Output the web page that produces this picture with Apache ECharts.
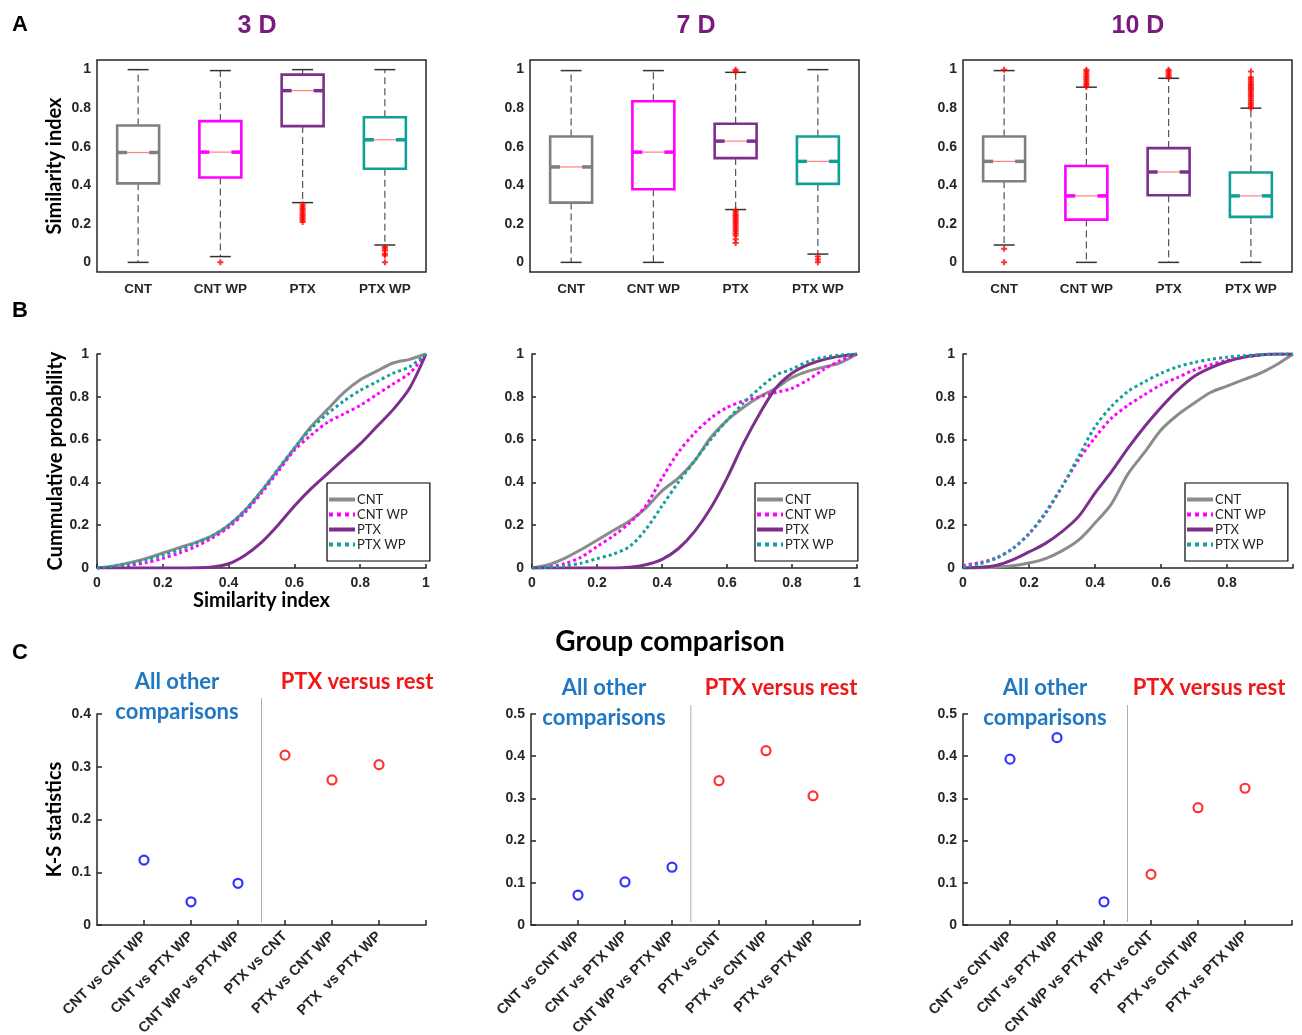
<!DOCTYPE html>
<html><head><meta charset="utf-8">
<script src="https://cdn.jsdelivr.net/npm/echarts@6/dist/echarts.min.js"></script>
<style>html,body{margin:0;padding:0;background:#fff}#main{width:1302px;height:1035px}</style>
</head><body><div id="main"></div>
<script>
// ---------------- DATA ----------------
const groups = ['CNT', 'CNT WP', 'PTX', 'PTX WP'];
const dayTitles = ['3 D', '7 D', '10 D'];
const yTicksA = [0, 0.2, 0.4, 0.6, 0.8, 1];

// box stats per group: [lower whisker, Q1, median, Q3, upper whisker]
const box3D  = [[0, 0.41, 0.57, 0.71, 1.0], [0.03, 0.44, 0.572, 0.733, 0.995], [0.31, 0.707, 0.891, 0.974, 1.0], [0.09, 0.486, 0.636, 0.753, 1.0]];
const box7D  = [[0, 0.31, 0.495, 0.653, 0.995], [0, 0.379, 0.572, 0.836, 0.995], [0.274, 0.541, 0.629, 0.719, 0.986], [0.043, 0.407, 0.524, 0.653, 1.0]];
const box10D = [[0.09, 0.421, 0.524, 0.653, 0.995], [0, 0.222, 0.345, 0.5, 0.909], [0, 0.348, 0.469, 0.593, 0.955], [0, 0.236, 0.345, 0.466, 0.80]];

// outliers: [group index, value]
const out3D = [[1, 0], [2, 0.21], [2, 0.22], [2, 0.23], [2, 0.24], [2, 0.25], [2, 0.26], [2, 0.27], [2, 0.28], [2, 0.29], [2, 0.30],
  [3, 0], [3, 0.035], [3, 0.045], [3, 0.06], [3, 0.07], [3, 0.08]];
const out7D = [[2, 0.99], [2, 1.0], [2, 0.10], [2, 0.12], [2, 0.14], [2, 0.15], [2, 0.16], [2, 0.17], [2, 0.18], [2, 0.19], [2, 0.20],
  [2, 0.21], [2, 0.22], [2, 0.23], [2, 0.24], [2, 0.25], [2, 0.26], [2, 0.27], [3, 0], [3, 0.015], [3, 0.03]];
const out10D = [[0, 1.0], [0, 0.07], [0, 0],
  [1, 0.91], [1, 0.92], [1, 0.93], [1, 0.94], [1, 0.95], [1, 0.96], [1, 0.97], [1, 0.98], [1, 0.99], [1, 1.0],
  [2, 0.96], [2, 0.97], [2, 0.98], [2, 0.99], [2, 1.0],
  [3, 0.80], [3, 0.81], [3, 0.82], [3, 0.83], [3, 0.84], [3, 0.85], [3, 0.86], [3, 0.87], [3, 0.88], [3, 0.89], [3, 0.90],
  [3, 0.91], [3, 0.92], [3, 0.93], [3, 0.94], [3, 0.95], [3, 0.96], [3, 0.99]];

// cumulative distributions sampled at cdfX
const cdfX = [0, 0.05, 0.1, 0.15, 0.2, 0.25, 0.3, 0.35, 0.4, 0.45, 0.5, 0.55, 0.6, 0.65, 0.7, 0.75, 0.8, 0.85, 0.9, 0.95, 1];
const cdf3D_CNT   = [0, 0.01, 0.025, 0.045, 0.07, 0.095, 0.12, 0.15, 0.2, 0.27, 0.36, 0.46, 0.56, 0.66, 0.74, 0.82, 0.88, 0.92, 0.958, 0.975, 1];
const cdf3D_CNTWP = [0, 0.005, 0.012, 0.025, 0.045, 0.07, 0.1, 0.14, 0.19, 0.26, 0.35, 0.45, 0.55, 0.62, 0.68, 0.72, 0.76, 0.81, 0.86, 0.91, 1];
const cdf3D_PTX   = [0, 0, 0, 0, 0, 0, 0.001, 0.005, 0.02, 0.06, 0.12, 0.2, 0.29, 0.37, 0.44, 0.51, 0.58, 0.66, 0.74, 0.84, 1];
const cdf3D_PTXWP = [0, 0.008, 0.02, 0.038, 0.06, 0.085, 0.115, 0.15, 0.2, 0.27, 0.36, 0.46, 0.56, 0.65, 0.72, 0.78, 0.83, 0.87, 0.91, 0.94, 1];

const cdf7D_CNT   = [0, 0.015, 0.045, 0.085, 0.13, 0.175, 0.22, 0.28, 0.36, 0.42, 0.5, 0.61, 0.69, 0.75, 0.8, 0.84, 0.89, 0.92, 0.94, 0.96, 1];
const cdf7D_CNTWP = [0, 0.005, 0.02, 0.05, 0.1, 0.15, 0.21, 0.29, 0.42, 0.54, 0.63, 0.7, 0.75, 0.78, 0.8, 0.82, 0.84, 0.88, 0.93, 0.97, 1];
const cdf7D_PTX   = [0, 0, 0, 0, 0, 0, 0.003, 0.015, 0.04, 0.09, 0.17, 0.28, 0.42, 0.58, 0.72, 0.84, 0.91, 0.95, 0.975, 0.99, 1];
const cdf7D_PTXWP = [0, 0.003, 0.01, 0.022, 0.044, 0.065, 0.1, 0.18, 0.29, 0.4, 0.5, 0.6, 0.69, 0.77, 0.84, 0.9, 0.93, 0.965, 0.985, 0.995, 1];

const cdf10D_CNT   = [0, 0, 0.003, 0.01, 0.023, 0.044, 0.08, 0.13, 0.21, 0.3, 0.44, 0.54, 0.645, 0.715, 0.77, 0.82, 0.85, 0.88, 0.91, 0.95, 1];
const cdf10D_CNTWP = [0.012, 0.025, 0.047, 0.09, 0.16, 0.255, 0.38, 0.505, 0.61, 0.7, 0.76, 0.81, 0.856, 0.89, 0.925, 0.95, 0.97, 0.985, 0.995, 1, 1];
const cdf10D_PTX   = [0, 0.003, 0.012, 0.038, 0.075, 0.115, 0.17, 0.24, 0.35, 0.45, 0.56, 0.66, 0.75, 0.83, 0.895, 0.935, 0.965, 0.985, 0.995, 1, 1];
const cdf10D_PTXWP = [0.005, 0.02, 0.045, 0.09, 0.16, 0.26, 0.38, 0.52, 0.66, 0.755, 0.825, 0.87, 0.91, 0.94, 0.96, 0.975, 0.985, 0.992, 0.997, 1, 1];

// K-S statistics
const ksCats3D = ['CNT vs CNT WP', 'CNT vs PTX WP', 'CNT WP vs PTX WP', 'PTX vs CNT', 'PTX vs CNT WP', 'PTX  vs PTX WP'];
const ksCats   = ['CNT vs CNT WP', 'CNT vs PTX WP', 'CNT WP vs PTX WP', 'PTX vs CNT', 'PTX vs CNT WP', 'PTX vs PTX WP'];
const ks3D  = [0.123, 0.044, 0.079, 0.322, 0.275, 0.304];
const ks7D  = [0.071, 0.102, 0.137, 0.342, 0.413, 0.306];
const ks10D = [0.393, 0.444, 0.055, 0.120, 0.278, 0.324];
const ksTicks3 = [0, 0.1, 0.2, 0.3, 0.4];
const ksTicks5 = [0, 0.1, 0.2, 0.3, 0.4, 0.5];

// ---------------- STYLE / LAYOUT ----------------
const groupColors = ['#7f7f7f', '#ff00ff', '#7e2f8e', '#10a098'];
const cdfColors = ['#8c8c8c', '#ff00ff', '#7e2f8e', '#14a09a'];
const cdfTypes = ['solid', 'dotted', 'solid', 'dotted'];
const axisCol = '#262626';
const tickFont = { fontFamily: "'Liberation Sans',Arial,sans-serif", fontWeight: 'bold', fontSize: 14, color: axisCol };
const titleFont = "Lato,'Open Sans',sans-serif";
const colLeft = [97, 530, 963];
const plusPath = 'path://M2,0H4V2H6V4H4V6H2V4H0V2H2Z';

const grids = [], xAxes = [], yAxes = [], series = [], legends = [];

function boxRender(params, api) {
  const g = api.value(0);
  const lo = api.value(1), q1 = api.value(2), md = api.value(3), q3 = api.value(4), hi = api.value(5);
  const bw = api.size([1, 0])[0];
  const half = bw * 0.255;
  const cx = api.coord([g, md])[0];
  const Y = v => api.coord([g, v])[1];
  const L = cx - half, R = cx + half;
  const ind = 10, capH = half * 0.5;
  const col = groupColors[g];
  const yq1 = Y(q1), yq3 = Y(q3), ym = Y(md), ylo = Y(lo), yhi = Y(hi);
  const dash = { stroke: '#555', lineWidth: 1.2, lineDash: [7, 4] };
  const cap = { stroke: '#333', lineWidth: 1.5 };
  const notch = { stroke: col, lineWidth: 3.5 };
  return { type: 'group', children: [
    { type: 'line', shape: { x1: cx, y1: yq3, x2: cx, y2: yhi }, style: dash },
    { type: 'line', shape: { x1: cx, y1: yq1, x2: cx, y2: ylo }, style: dash },
    { type: 'line', shape: { x1: cx - capH, y1: yhi, x2: cx + capH, y2: yhi }, style: cap },
    { type: 'line', shape: { x1: cx - capH, y1: ylo, x2: cx + capH, y2: ylo }, style: cap },
    { type: 'rect', shape: { x: L, y: yq3, width: R - L, height: yq1 - yq3 }, style: { fill: 'none', stroke: col, lineWidth: 2.6 } },
    { type: 'line', shape: { x1: L + ind, y1: ym, x2: R - ind, y2: ym }, style: { stroke: '#ff8080', lineWidth: 1.2 } },
    { type: 'line', shape: { x1: L, y1: ym, x2: L + ind, y2: ym }, style: notch },
    { type: 'line', shape: { x1: R - ind, y1: ym, x2: R, y2: ym }, style: notch }
  ] };
}

// ---- Row A: box plots ----
const boxSets = [box3D, box7D, box10D];
const outSets = [out3D, out7D, out10D];
for (let d = 0; d < 3; d++) {
  const gi = grids.push({ left: colLeft[d], top: 60, width: 329, height: 212, outerBoundsMode: 'none', show: true, borderColor: axisCol, borderWidth: 1.5, backgroundColor: 'transparent' }) - 1;
  const xi = xAxes.push({ gridIndex: gi, type: 'category', data: groups, position: 'bottom',
    axisLine: { show: false }, axisTick: { inside: true, alignWithLabel: true, length: 5, lineStyle: { color: axisCol, width: 1.5 } },
    axisLabel: Object.assign({}, tickFont, { margin: 10, fontSize: 13.5 }) }) - 1;
  xAxes.push({ gridIndex: gi, type: 'category', data: groups, position: 'top',
    axisLine: { show: false }, axisTick: { inside: true, alignWithLabel: true, length: 5, lineStyle: { color: axisCol, width: 1.5 } }, axisLabel: { show: false } });
  const yi = yAxes.push({ gridIndex: gi, type: 'value', min: -0.05, max: 1.05, position: 'left',
    name: d === 0 ? 'Similarity index' : '', nameLocation: 'middle', nameGap: 32, nameRotate: 90,
    nameTextStyle: { fontFamily: titleFont, fontWeight: 'bold', fontSize: 20, color: '#000' },
    splitLine: { show: false }, axisLine: { show: false },
    axisTick: { inside: true, length: 5, customValues: yTicksA, lineStyle: { color: axisCol, width: 1.5 } },
    axisLabel: Object.assign({ customValues: yTicksA, margin: 6 }, tickFont) }) - 1;
  yAxes.push({ gridIndex: gi, type: 'value', min: -0.05, max: 1.05, position: 'right',
    splitLine: { show: false }, axisLine: { show: false },
    axisTick: { inside: true, length: 5, customValues: yTicksA, lineStyle: { color: axisCol, width: 1.5 } }, axisLabel: { show: false } });
  series.push({ type: 'custom', name: 'box' + d, xAxisIndex: xi, yAxisIndex: yi, renderItem: boxRender,
    encode: { x: 0, y: [1, 2, 3, 4, 5] }, data: boxSets[d].map((b, i) => [i].concat(b)), z: 3 });
  series.push({ type: 'scatter', name: 'outliers' + d, xAxisIndex: xi, yAxisIndex: yi, symbol: plusPath, symbolSize: 6,
    itemStyle: { color: '#ff0000' }, data: outSets[d], z: 4, silent: true });
}

// ---- Row B: CDFs ----
const cdfSets = [
  [cdf3D_CNT, cdf3D_CNTWP, cdf3D_PTX, cdf3D_PTXWP],
  [cdf7D_CNT, cdf7D_CNTWP, cdf7D_PTX, cdf7D_PTXWP],
  [cdf10D_CNT, cdf10D_CNTWP, cdf10D_PTX, cdf10D_PTXWP]];
const bLeft = [97, 532, 963], bWidth = [329, 325, 330];
const legLeft = [327, 755, 1185];
for (let d = 0; d < 3; d++) {
  const gi = grids.push({ left: bLeft[d], top: 354, width: bWidth[d], height: 214, outerBoundsMode: 'none' }) - 1;
  const xi = xAxes.push({ gridIndex: gi, type: 'value', min: 0, max: 1, interval: 0.2,
    name: d === 0 ? 'Similarity index' : '', nameLocation: 'middle', nameGap: 22,
    nameTextStyle: { fontFamily: titleFont, fontWeight: 'bold', fontSize: 20, color: '#000' },
    splitLine: { show: false }, axisLine: { lineStyle: { color: axisCol, width: 1.5 } },
    axisTick: { inside: true, length: 4, lineStyle: { color: axisCol, width: 1.5 } },
    axisLabel: Object.assign({ margin: 8, formatter: v => (d === 2 && v === 1) ? '' : String(v) }, tickFont) }) - 1;
  const yi = yAxes.push({ gridIndex: gi, type: 'value', min: 0, max: 1, interval: 0.2,
    name: d === 0 ? 'Cummulative probability' : '', nameLocation: 'middle', nameGap: 30, nameRotate: 90,
    nameTextStyle: { fontFamily: titleFont, fontWeight: 'bold', fontSize: 20, color: '#000' },
    splitLine: { show: false }, axisLine: { show: true, lineStyle: { color: axisCol, width: 1.5 } },
    axisTick: { inside: true, length: 4, lineStyle: { color: axisCol, width: 1.5 } },
    axisLabel: Object.assign({ margin: 8 }, tickFont) }) - 1;
  for (let k = 0; k < 4; k++) {
    series.push({ type: 'line', name: groups[k], xAxisIndex: xi, yAxisIndex: yi, smooth: 0.3, symbol: 'none', showSymbol: false,
      lineStyle: { color: cdfColors[k], width: 3, type: cdfTypes[k] }, itemStyle: { color: cdfColors[k] },
      data: cdfX.map((x, i) => [x, cdfSets[d][k][i]]), z: 3 + k, silent: true });
  }
  legends.push({ data: groups, orient: 'vertical', left: legLeft[d], top: 483, itemWidth: 26, itemHeight: 14, itemGap: 2,
    padding: [10, 22, 10, 0], borderColor: '#000', borderWidth: 1.2, backgroundColor: '#fff', selectedMode: false,
    itemStyle: { opacity: 0 }, lineStyle: { width: 4 },
    textStyle: { fontFamily: titleFont, fontSize: 13, color: '#262626', padding: [0, 0, 0, -3] } });
}

// ---- Row C: K-S statistics ----
const ksSets = [ks3D, ks7D, ks10D];
const ksCatSets = [ksCats3D, ksCats, ksCats];
const ksMax = [0.4, 0.5, 0.5];
const ksTickSets = [ksTicks3, ksTicks5, ksTicks5];
const cGrids = [];
for (let d = 0; d < 3; d++) {
  const gi = grids.push({ left: colLeft[d] + (d === 1 ? 1 : 0), top: 714, width: 329, height: 211, outerBoundsMode: 'none' }) - 1;
  cGrids.push(gi);
  const cats = ksCatSets[d];
  const xi = xAxes.push({ gridIndex: gi, type: 'value', min: 0, max: 7,
    splitLine: { show: false }, axisLine: { lineStyle: { color: axisCol, width: 1.5 } },
    axisTick: { inside: true, length: 5, customValues: [1, 2, 3, 4, 5, 6, 7], lineStyle: { color: axisCol, width: 1.5 } },
    axisLabel: Object.assign({}, tickFont, { customValues: [1, 2, 3, 4, 5, 6], rotate: 45, margin: 9, fontSize: 14.5,
      formatter: v => cats[Math.round(v) - 1] || '' }) }) - 1;
  const yi = yAxes.push({ gridIndex: gi, type: 'value', min: 0, max: ksMax[d],
    name: d === 0 ? 'K-S statistics' : '', nameLocation: 'middle', nameGap: 32, nameRotate: 90,
    nameTextStyle: { fontFamily: titleFont, fontWeight: 'bold', fontSize: 20, color: '#000' },
    splitLine: { show: false }, axisLine: { show: true, lineStyle: { color: axisCol, width: 1.5 } },
    axisTick: { inside: true, length: 5, customValues: ksTickSets[d], lineStyle: { color: axisCol, width: 1.5 } },
    axisLabel: Object.assign({ customValues: ksTickSets[d], margin: 6 }, tickFont) }) - 1;
  series.push({ type: 'scatter', name: 'ks' + d, xAxisIndex: xi, yAxisIndex: yi, symbol: 'circle', symbolSize: 9,
    data: ksSets[d].map((v, i) => ({ value: [i + 1, v], itemStyle: { color: '#fff', borderColor: i < 3 ? '#0000ff' : '#ff0000', borderWidth: 2.2 } })),
    z: 4, silent: true });
}

const chart = echarts.init(document.getElementById('main'), null, { renderer: 'canvas' });
chart.setOption({
  backgroundColor: '#fff',
  animation: false,
  grid: grids, xAxis: xAxes, yAxis: yAxes, series: series, legend: legends
});

// ---- texts and dividers ----
const g = [];
function txt(text, x, y, font, size, color, weight, align) {
  g.push({ type: 'text', x: x, y: y, style: { text: text, font: (weight || 'bold') + ' ' + size + 'px ' + font, fill: color, textAlign: align || 'center', textVerticalAlign: 'middle' }, z: 10 });
}
const sans = "'Liberation Sans',Arial,sans-serif";
txt('A', 12, 25, sans, 22, '#000', 'bold', 'left');
txt('B', 12, 311, sans, 22, '#000', 'bold', 'left');
txt('C', 12, 653, sans, 22, '#000', 'bold', 'left');
const titleX = [257, 696, 1138];
for (let d = 0; d < 3; d++) txt(dayTitles[d], titleX[d], 26, sans, 25, '#7a1a7e', 'bold');
txt('Group comparison', 670, 642, titleFont, 28, '#000', 'bold');
const allX = [177, 604, 1045], ptxX = [357, 781, 1209], lineY = [682, 688, 688];
for (let d = 0; d < 3; d++) {
  txt('All other', allX[d], lineY[d], titleFont, 22, '#1f78c4', 'bold');
  txt('comparisons', allX[d], lineY[d] + 30, titleFont, 22, '#1f78c4', 'bold');
  txt('PTX versus rest', ptxX[d], lineY[d], titleFont, 22, '#f01818', 'bold');
}
const divX = [3.5, 3.4, 3.5];
const divTop = [698, 705, 705];
for (let d = 0; d < 3; d++) {
  const p = chart.convertToPixel({ gridIndex: cGrids[d] }, [divX[d], 0]);
  g.push({ type: 'line', shape: { x1: p[0], y1: divTop[d], x2: p[0], y2: p[1] - 3 }, style: { stroke: '#a8aebb', lineWidth: 1 }, z: 2 });
}
chart.setOption({ graphic: g });
</script>
</body></html>
